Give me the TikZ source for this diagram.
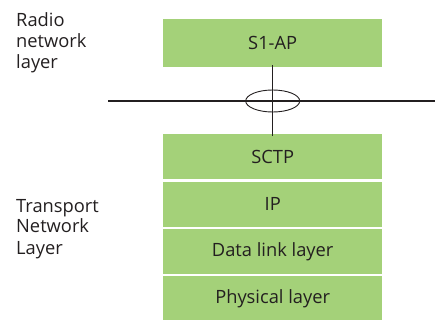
\documentclass[tikz,border=0pt]{standalone}
\usepackage{fontspec}
\setmainfont{Open Sans}
\usepackage{xcolor}
\usepackage{tikz}
\usetikzlibrary{positioning}

\definecolor{layergreen}{RGB}{164,209,121}
\definecolor{inkgray}{RGB}{35,31,32}

\begin{document}
\begin{tikzpicture}[x=1pt, y=-1pt, node distance=2pt, text=inkgray,
    layerbox/.style={rectangle, fill=layergreen, minimum width=219pt, minimum height=45pt, inner sep=0pt, font=\fontsize{18.3}{21}\selectfont},
    sidelabel/.style={align=left, inner sep=0pt, font=\fontsize{18.3}{21}\selectfont}]
    \useasboundingbox (0,0) rectangle (441,320);

    \node[layerbox, minimum height=48pt, anchor=north west] (s1ap) at (163,19) {S1-AP};
    \node[layerbox, anchor=north west] (sctp) at (163,134) {SCTP};
    \node[layerbox, below=of sctp] (ip) {IP};
    \node[layerbox, below=of ip] (datalink) {Data link layer};
    \node[layerbox, below=of datalink] (physical) {Physical layer};

    \node[sidelabel, anchor=base west] (radiolbl) at (16,69) {Radio\\network\\layer};
    \node[sidelabel, anchor=base west] (transportlbl) at (16,254) {Transport\\Network\\Layer};

    % interface line with the crossing
    \coordinate (ifwest) at (108,101);
    \coordinate (ifeast) at (435,101);
    \coordinate (cross) at (s1ap.south |- ifwest);
    \draw[inkgray, line width=1.3pt] (ifwest) -- (ifeast);
    \draw[inkgray, line width=1.3pt] ([yshift=2pt]s1ap.south) -- ([yshift=-2pt]sctp.north);
    \draw[inkgray, line width=0.9pt] (cross) ellipse (27 and 11);
\end{tikzpicture}
\end{document}
